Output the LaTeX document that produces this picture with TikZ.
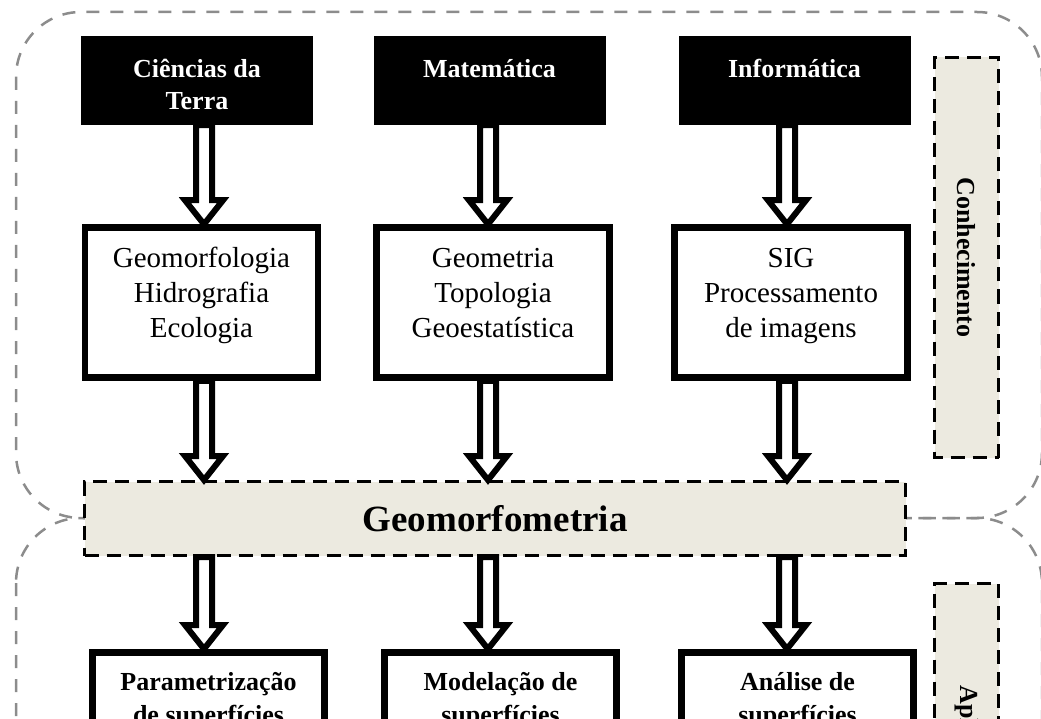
\documentclass[tikz,border=0pt]{standalone}
\usepackage{fontspec}
\setmainfont{Liberation Serif}
\usetikzlibrary{calc}
\usepackage{xcolor}
\definecolor{geobeige}{RGB}{236,234,224}
\definecolor{framegray}{RGB}{140,140,140}

% hollow block arrow: column, source node, target node
\newcommand{\hollowarrow}[3]{%
  \draw[blockarrow] let \p0=(#1), \p1=(#2.south), \p2=(#3.north) in
    (\x0-8pt,\y1) -- (\x0-8pt,\y2+24pt) -- (\x0-19pt,\y2+24pt) -- (\x0,\y2)
    -- (\x0+19pt,\y2+24pt) -- (\x0+8pt,\y2+24pt) -- (\x0+8pt,\y1) -- cycle;}

\begin{document}
\begin{tikzpicture}[x=1pt,y=-1pt]
      \tikzstyle{field} = [rectangle, fill=black, minimum width=232pt, minimum height=89pt, inner sep=0pt]
      \tikzstyle{fieldtext} = [text=white, font=\fontsize{26}{32}\selectfont\bfseries, align=center, anchor=north, inner sep=0pt]
      \tikzstyle{topic} = [rectangle, draw, line width=6.5pt, fill=white, minimum width=233pt, minimum height=150pt]
      \tikzstyle{topictext} = [font=\fontsize{29}{35}\selectfont, align=center, anchor=north, inner sep=0pt]
      \tikzstyle{result} = [rectangle, draw, line width=7pt, fill=white, minimum width=232pt, minimum height=150pt]
      \tikzstyle{resulttext} = [font=\fontsize{26}{33}\selectfont\bfseries, align=center, anchor=north, inner sep=0pt]
      \tikzstyle{band} = [rectangle, draw, dash pattern=on 14pt off 8pt, line width=3pt, fill=geobeige]
      \tikzstyle{side} = [band, rotate=-90, minimum height=64pt, font=\fontsize{26}{32}\selectfont\bfseries]
      \tikzstyle{frame} = [draw=framegray, line width=2.5pt, dash pattern=on 13pt off 11pt, rounded corners=65pt]
      \tikzstyle{blockarrow} = [draw, line width=6pt, fill=white, line join=miter]

      \useasboundingbox (0,0) rectangle (1041,719);
      \clip (0,0) rectangle (1041,719);

      \draw[frame] (16,12) rectangle (1042,518);
      \draw[frame] (16,518) rectangle (1042,900);

      \coordinate (col1) at (204,0);
      \coordinate (col2) at (488,0);
      \coordinate (col3) at (787,0);

      \node[field] (ter) at (197,80.5) {};
      \node[field] (mat) at (489.5,80.5) {};
      \node[field] (inf) at (794.5,80.5) {};
      \node[fieldtext] (ter-t) at ([yshift=-19.6pt]ter.north) {\strut Ciências da\\Terra};
      \node[fieldtext] (mat-t) at ([yshift=-19.6pt]mat.north) {\strut Matemática};
      \node[fieldtext] (inf-t) at ([yshift=-19.6pt]inf.north) {\strut Informática};

      \node[topic] (geomorf) at (201.5,302.5) {};
      \node[topic] (geomet) at (493,302.5) {};
      \node[topic] (sig) at (791,302.5) {};
      \node[topictext] (geomorf-t) at ([yshift=-18.5pt]geomorf.north) {\strut Geomorfologia\\Hidrografia\\Ecologia};
      \node[topictext] (geomet-t) at ([yshift=-18.5pt]geomet.north) {\strut Geometria\\Topologia\\Geoestatística};
      \node[topictext] (sig-t) at ([yshift=-18.5pt]sig.north) {\strut SIG\\Processamento\\de imagens};

      \node[band, minimum width=821pt, minimum height=74pt, font=\fontsize{37}{44}\selectfont\bfseries] (geo) at (495,518.5) {Geomorfometria};

      \node[result] (param) at (208.5,727.5) {};
      \node[result] (model) at (500.5,727.5) {};
      \node[result] (anal) at (797.5,727.5) {};
      \node[resulttext] (param-t) at ([yshift=-17.9pt]param.north) {\strut Parametrização\\de superfícies};
      \node[resulttext] (model-t) at ([yshift=-17.9pt]model.north) {\strut Modelação de\\superfícies};
      \node[resulttext] (anal-t) at ([yshift=-17.9pt]anal.north) {\strut Análise de\\superfícies};

      \node[side, minimum width=400pt] (know) at (966.5,257.5) {Conhecimento};
      \node[side, minimum width=322pt] (appl) at (966.5,744.5) {Aplicações};

      \hollowarrow{col1}{ter}{geomorf}
      \hollowarrow{col2}{mat}{geomet}
      \hollowarrow{col3}{inf}{sig}
      \hollowarrow{col1}{geomorf}{geo}
      \hollowarrow{col2}{geomet}{geo}
      \hollowarrow{col3}{sig}{geo}
      \hollowarrow{col1}{geo}{param}
      \hollowarrow{col2}{geo}{model}
      \hollowarrow{col3}{geo}{anal}
\end{tikzpicture}
\end{document}
